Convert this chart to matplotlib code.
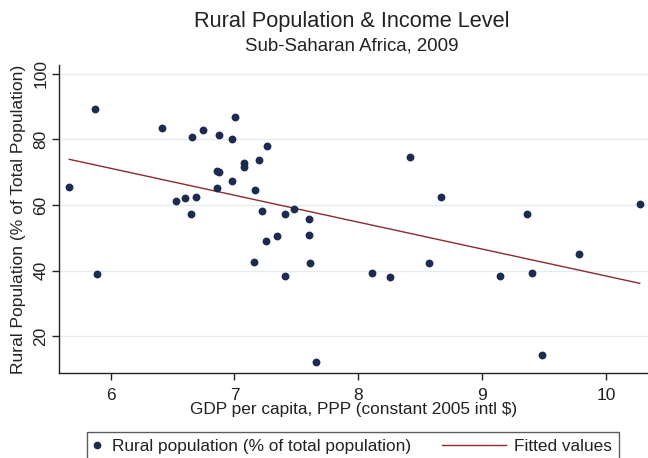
import matplotlib
matplotlib.use("Agg")
import matplotlib.pyplot as plt
from matplotlib.lines import Line2D
from matplotlib.legend_handler import HandlerBase

# log gdp per capita and rural share
gdp = [5.666, 5.873, 5.887, 6.417, 6.530, 6.597, 6.648, 6.657, 6.686, 6.743,
       6.861, 6.877, 6.861, 6.877, 6.977, 6.977, 7.006, 7.074, 7.074, 7.166,
       7.195, 7.222, 7.263, 7.252, 7.155, 7.341, 7.410, 7.410, 7.481, 7.604,
       7.604, 7.607, 7.656, 8.108, 8.254, 8.418, 8.571, 8.670, 9.142, 9.363,
       9.405, 9.481, 9.785, 10.273]
rural = [65.6, 89.1, 39.0, 83.4, 61.3, 62.0, 57.2, 80.6, 62.5, 82.7,
         70.2, 69.9, 65.2, 81.3, 80.1, 67.3, 86.7, 72.8, 71.7, 64.5,
         73.8, 58.2, 78.0, 49.1, 42.6, 50.4, 57.2, 38.3, 58.75, 55.6,
         50.7, 42.2, 12.1, 39.2, 38.0, 74.7, 42.2, 62.4, 38.4, 57.3,
         39.3, 14.2, 45.1, 60.3]

# fitted values (ends of the regression line)
fit_x = [5.666, 10.273]
fit_y = [73.9, 36.1]

y_ticks = [20, 40, 60, 80, 100]
x_ticks = [6, 7, 8, 9, 10]

plt.rcParams['font.family'] = ['Liberation Sans', 'DejaVu Sans']
navy = '#1c2b50'
maroon = '#8c2a2f'
txt = '#222222'


class LongLine(HandlerBase):
    # stata draws the legend line much longer than the marker slot,
    # so let it reach back into the column gap
    def create_artists(self, legend, orig_handle, xdescent, ydescent,
                       width, height, fontsize, trans):
        x1 = -xdescent + width + 0.27 * fontsize
        x0 = x1 - 3.75 * fontsize
        y = (height - ydescent) / 2.0
        ln = Line2D([x0, x1], [y, y], color=orig_handle.get_color(),
                    lw=orig_handle.get_linewidth())
        ln.set_transform(trans)
        return [ln]


fig = plt.figure(figsize=(6.48, 4.58), dpi=100)
ax = fig.add_axes([0.0915, 0.1849, 0.9085, 0.6731])

ax.scatter(gdp, rural, s=32, color=navy, zorder=3, linewidths=0)
fit_line, = ax.plot(fit_x, fit_y, color=maroon, lw=1.0, zorder=2)

ax.set_xlim(5.585, 10.34)
ax.set_ylim(8.66, 102.65)
ax.set_xticks(x_ticks)
ax.set_yticks(y_ticks)
ax.grid(axis='y', color='#e4ecf0', lw=1.0, zorder=0)
ax.set_axisbelow(True)

for s in ['top', 'right']:
    ax.spines[s].set_visible(False)
for s in ['left', 'bottom']:
    ax.spines[s].set_color('#222222')
    ax.spines[s].set_linewidth(1.0)

ax.tick_params(axis='both', direction='out', length=5, width=1,
               color='#222222', labelcolor=txt, labelsize=12.5)
ax.tick_params(axis='x', pad=5.5)
ax.tick_params(axis='y', pad=3)
for lab in ax.get_yticklabels():
    lab.set_rotation(90)
    lab.set_va('center')

ax.set_ylabel('Rural Population (% of Total Population)', fontsize=12.6, color=txt)
ax.yaxis.set_label_coords(-0.0696, 0.5)
ax.yaxis.label.set_va('center')
ax.set_xlabel('GDP per capita, PPP (constant 2005 intl $)', fontsize=12.4, color=txt)
ax.xaxis.set_label_coords(0.5, -0.132)
ax.xaxis.label.set_va('baseline')

fig.text(0.543, 0.9417, 'Rural Population & Income Level', ha='center', va='baseline',
         fontsize=15.7, color=txt)
fig.text(0.543, 0.8908, 'Sub-Saharan Africa, 2009', ha='center', va='baseline',
         fontsize=13.4, color=txt)

# legend in a plain box at the bottom, cut by the figure edge like the original
dot = Line2D([], [], marker='o', ls='none', color=navy, markersize=4.5)
leg = fig.legend([dot, fit_line], ['Rural population (% of total population)', 'Fitted values'],
                 handler_map={fit_line: LongLine()},
                 loc='center', bbox_to_anchor=(0.545, 0.0247), ncol=2, frameon=True,
                 fancybox=False, fontsize=12.4, handlelength=0.29, columnspacing=4.97,
                 handletextpad=0.73, borderpad=0.4, labelcolor=txt)
leg.get_frame().set_edgecolor('#333333')
leg.get_frame().set_linewidth(1.0)

fig.savefig('out.png', dpi=100)
